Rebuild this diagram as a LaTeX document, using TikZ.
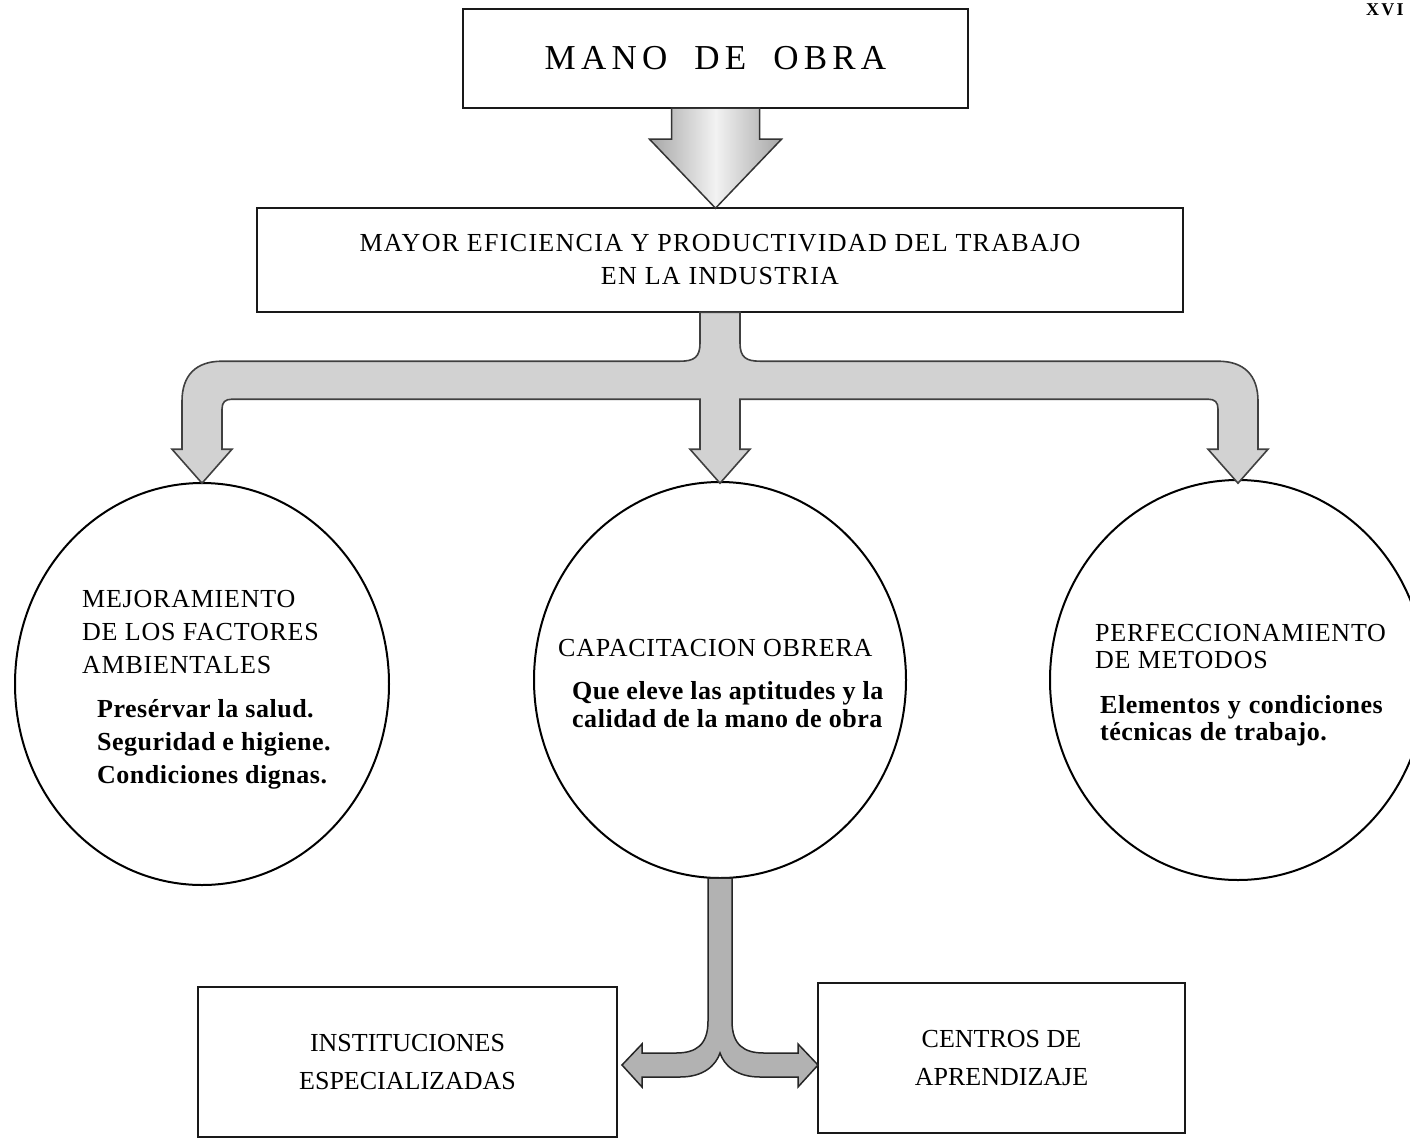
\documentclass[tikz,border=0pt]{standalone}
\usepackage{fontspec}
\setmainfont{Liberation Serif}
\usetikzlibrary{shapes.geometric}
\begin{document}
\begin{tikzpicture}[x=1pt,y=-1pt,
  box/.style={draw=black!90, line width=2.4pt, rectangle, inner sep=0pt, align=center},
  circ/.style={draw=black, line width=2pt, ellipse, inner sep=0pt},
  capsat/.style={font=\fontsize{26}{#1}\selectfont\addfontfeatures{LetterSpace=3}, align=left, inner sep=0pt, anchor=base west},
  subat/.style={font=\bfseries\fontsize{26}{#1}\selectfont\addfontfeatures{LetterSpace=2}, align=left, inner sep=0pt, anchor=base west},
  toparrow/.style={draw=black!80, line width=1.5pt, left color=gray!70, right color=gray!70, middle color=gray!10},
  branch/.style={draw=black!75, line width=1.6pt, fill=gray!35},
  ybranch/.style={draw=black!85, line width=1.5pt, fill=gray!60}
]
\useasboundingbox (0,0) rectangle (1410,1140);

% page number
\node[font=\bfseries\fontsize{18}{20}\selectfont, anchor=base west, inner sep=0pt] (pg) at (1366,16) {\addfontfeatures{LetterSpace=12}XVI};

% boxes
\node[box, minimum width=505pt, minimum height=99pt, font=\fontsize{35}{40}\selectfont] (top) at (715.5,58.5)
  {\addfontfeatures{LetterSpace=15}MANO\hspace{27pt}DE\hspace{27pt}OBRA};
\node[box, minimum width=926pt, minimum height=104pt, font=\fontsize{26}{33}\selectfont] (eff) at (720,260)
  {\addfontfeatures{LetterSpace=5}MAYOR EFICIENCIA Y PRODUCTIVIDAD DEL TRABAJO\\\addfontfeatures{LetterSpace=5}EN LA INDUSTRIA};

% circles
\node[circ, minimum width=374pt, minimum height=402pt] (left) at (202,684) {};
\node[circ, minimum width=372pt, minimum height=396pt] (mid) at (720,680) {};
\node[circ, minimum width=376pt, minimum height=400pt] (right) at (1238,680) {};

% circle texts (anchor = baseline of last line)
\node[capsat=33] (lt) at (82,673) {MEJORAMIENTO\\DE LOS FACTORES\\AMBIENTALES};
\node[subat=33] (ls) at (97,783) {Presérvar la salud.\\Seguridad e higiene.\\Condiciones dignas.};
\node[capsat=28] (mt) at (558,656) {CAPACITACION OBRERA};
\node[subat=28] (ms) at (572,727) {Que eleve las aptitudes y la\\calidad de la mano de obra};
\node[capsat=27] (rt) at (1095,668) {PERFECCIONAMIENTO\\DE METODOS};
\node[subat=27] (rs) at (1100,740) {Elementos\hspace{8pt}y\hspace{8pt}condiciones\\técnicas\hspace{8pt}de\hspace{8pt}trabajo.};

% bottom boxes
\node[box, minimum width=419pt, minimum height=150pt, font=\fontsize{26}{38}\selectfont] (inst) at (407.5,1062)
  {INSTITUCIONES\\ESPECIALIZADAS};
\node[box, minimum width=367pt, minimum height=150pt, font=\fontsize{26}{38}\selectfont] (cent) at (1001.5,1058)
  {CENTROS DE\\APRENDIZAJE};

% top block arrow
\draw[toparrow, shift={(top.south)}]
  (-44,-1) -- (-44,30) -- (-66,30) -- (0,99) -- (66,30) -- (44,30) -- (44,-1) -- cycle;

% branching arrow
\draw[branch, shift={(eff.south)}]
  (-20,-1) -- (-20,30) .. controls (-20,44) and (-26,48) .. (-40,48) -- (-498,48)
  .. controls (-524,48) and (-538,62) .. (-538,88) -- (-538,136) -- (-548,136) -- (-518,170)
  -- (-488,136) -- (-498,136) -- (-498,96) .. controls (-498,89) and (-495,86) .. (-488,86)
  -- (-20,86) -- (-20,136) -- (-30,136) -- (0,170) -- (30,136) -- (20,136) -- (20,86)
  -- (488,86) .. controls (495,86) and (498,89) .. (498,96) -- (498,136) -- (488,136)
  -- (518,170) -- (548,136) -- (538,136) -- (538,88) .. controls (538,62) and (524,48) .. (498,48)
  -- (40,48) .. controls (26,48) and (20,44) .. (20,30) -- (20,-1) -- cycle;

% Y arrow
\draw[ybranch, shift={(mid.south)}]
  (-12,-1) -- (-12,142) .. controls (-12,166) and (-24,174) .. (-44,174) -- (-78,174)
  -- (-78,165) -- (-98,186) -- (-78,208) -- (-78,198) -- (-40,198)
  .. controls (-16,198) and (-4,186) .. (0,174) .. controls (4,186) and (16,198) .. (40,198)
  -- (78,198) -- (78,208) -- (98,186) -- (78,165) -- (78,174) -- (44,174)
  .. controls (24,174) and (12,166) .. (12,142) -- (12,-1) -- cycle;
\end{tikzpicture}
\end{document}
